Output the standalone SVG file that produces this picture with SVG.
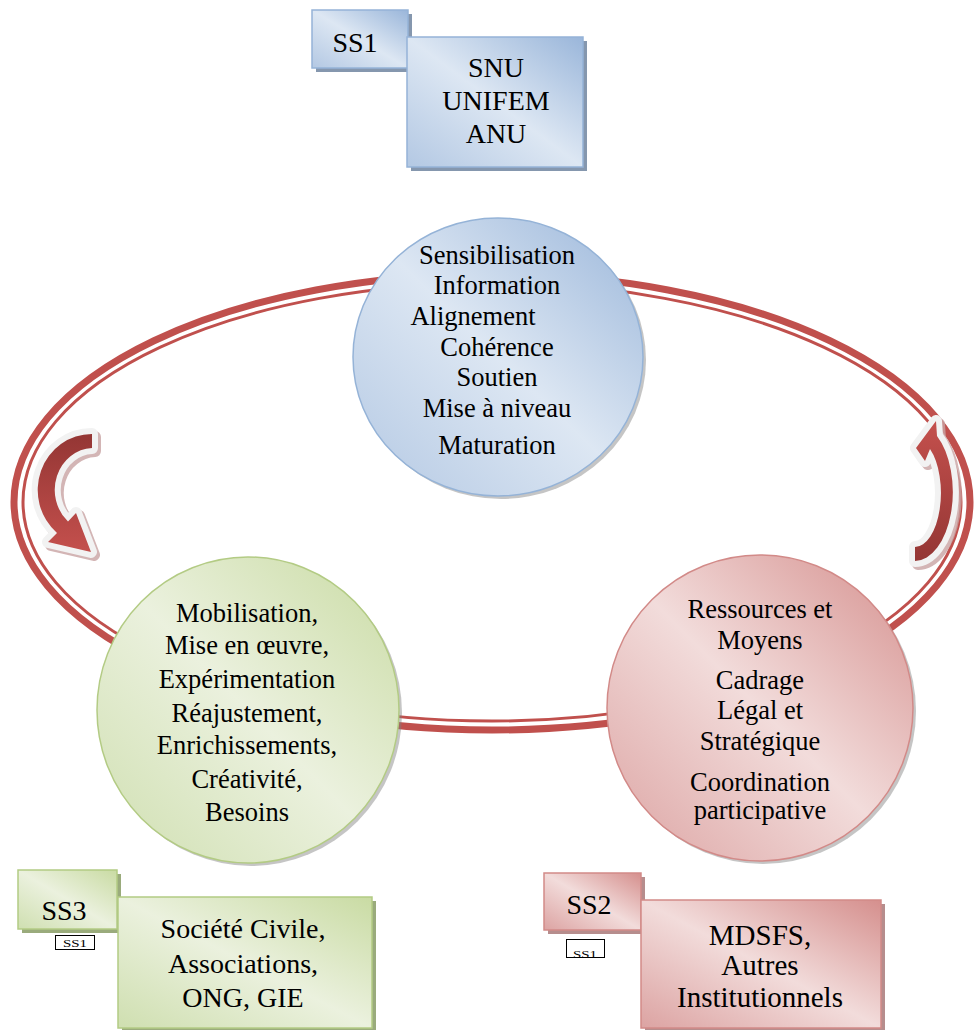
<svg xmlns="http://www.w3.org/2000/svg" width="974" height="1030" viewBox="0 0 974 1030">
<defs>
<linearGradient id="gBlue" x1="1" y1="0" x2="0" y2="1">
<stop offset="0" stop-color="#9ab6da"/><stop offset="0.5" stop-color="#dde7f3"/><stop offset="1" stop-color="#b3c8e3"/>
</linearGradient>
<linearGradient id="gGreen" x1="1" y1="0" x2="0" y2="1">
<stop offset="0" stop-color="#c9dba3"/><stop offset="0.5" stop-color="#ebf1de"/><stop offset="1" stop-color="#cfdfb0"/>
</linearGradient>
<linearGradient id="gPink" x1="1" y1="0" x2="0" y2="1">
<stop offset="0" stop-color="#d58f8d"/><stop offset="0.5" stop-color="#f2dcdb"/><stop offset="1" stop-color="#dca3a2"/>
</linearGradient>
<linearGradient id="gArrowL" x1="0" y1="0" x2="0" y2="1">
<stop offset="0" stop-color="#943634"/><stop offset="1" stop-color="#c4504d"/>
</linearGradient>
<linearGradient id="gArrowR" x1="0" y1="0" x2="0" y2="1">
<stop offset="0" stop-color="#c4504d"/><stop offset="1" stop-color="#943634"/>
</linearGradient>
<clipPath id="clipSS2"><rect x="566" y="939" width="38" height="19"/></clipPath>
</defs>
<style>
.t{font-family:'Liberation Serif','Times New Roman',serif;fill:#000;text-anchor:middle}
.e{font-size:26.5px}
.b{font-size:28px}
.m{font-size:29px}
.s{font-size:11px}
.ring{fill:none;stroke:#c0504d}
.arr{stroke:#f2f2f2;stroke-width:12;stroke-linejoin:round;paint-order:stroke}
.arrsh{fill:#b98c8c;stroke:#c9a3a3;stroke-width:12;stroke-linejoin:round;opacity:.8}
.esh{fill:#7f7f7f;opacity:.45}
.shB{fill:#8597ae}
.shG{fill:#9aab7c}
.shP{fill:#b68d8d}
.bB{fill:url(#gBlue);stroke:#95b3d7;stroke-width:1.5}
.bG{fill:url(#gGreen);stroke:#b3cb84;stroke-width:1.5}
.bP{fill:url(#gPink);stroke:#d28a88;stroke-width:1.5}
.small{fill:#fff;stroke:#000;stroke-width:1}
</style>

<g id="connectors">
<ellipse class="ring" cx="492" cy="502" rx="478" ry="228" stroke-width="7"/>
<ellipse class="ring" cx="492" cy="502" rx="469" ry="219" stroke-width="3"/>
<g id="arrow-left">
<path class="arrsh" transform="translate(3,3)" d="M 92,434 A 54 56 0 0 0 57,532.9 L 48,542 L 91,552 L 76,513 L 68,521.5 A 39 42 0 0 1 92,448 Z"/>
<path class="arr" fill="url(#gArrowL)" d="M 92,434 A 54 56 0 0 0 57,532.9 L 48,542 L 91,552 L 76,513 L 68,521.5 A 39 42 0 0 1 92,448 Z"/>
</g>
<g id="arrow-right">
<path class="arrsh" transform="translate(3,3)" d="M 915,561 A 38 69 0 0 0 937,436 L 936,421 L 916,448 L 925,461 L 930,449 A 26 54 0 0 1 915,547 Z"/>
<path class="arr" fill="url(#gArrowR)" d="M 915,561 A 38 69 0 0 0 937,436 L 936,421 L 916,448 L 925,461 L 930,449 A 26 54 0 0 1 915,547 Z"/>
</g>
</g>

<g id="node-blue">
<ellipse class="esh" cx="501" cy="360" rx="145" ry="139"/>
<ellipse class="bB" cx="498" cy="357" rx="145" ry="139" stroke-width="2"/>
<text class="t e" x="497" y="264">Sensibilisation</text>
<text class="t e" x="497" y="294">Information</text>
<text class="t e" x="473" y="325">Alignement</text>
<text class="t e" x="497" y="356">Cohérence</text>
<text class="t e" x="497" y="386">Soutien</text>
<text class="t e" x="497" y="417">Mise à niveau</text>
<text class="t e" x="497" y="454">Maturation</text>
</g>

<g id="node-green">
<ellipse class="esh" cx="251" cy="713" rx="151" ry="153"/>
<ellipse class="bG" cx="248" cy="710" rx="151" ry="153" stroke-width="2"/>
<text class="t e" x="247" y="622">Mobilisation,</text>
<text class="t e" x="247" y="654">Mise en œuvre,</text>
<text class="t e" x="247" y="688">Expérimentation</text>
<text class="t e" x="247" y="722">Réajustement,</text>
<text class="t e" x="247" y="754">Enrichissements,</text>
<text class="t e" x="247" y="788">Créativité,</text>
<text class="t e" x="247" y="821">Besoins</text>
</g>

<g id="node-pink">
<ellipse class="esh" cx="763" cy="711" rx="153" ry="153"/>
<ellipse class="bP" cx="760" cy="708" rx="153" ry="153" stroke-width="2"/>
<text class="t e" x="760" y="618">Ressources et</text>
<text class="t e" x="760" y="649">Moyens</text>
<text class="t e" x="760" y="689">Cadrage</text>
<text class="t e" x="760" y="719">Légal et</text>
<text class="t e" x="760" y="750">Stratégique</text>
<text class="t e" x="760" y="791">Coordination</text>
<text class="t e" x="760" y="819">participative</text>
</g>

<g id="node-ss1">
<rect class="shB" x="316" y="14" width="96" height="58"/>
<rect class="bB" x="312" y="10" width="96" height="58"/>
<text class="t b" x="355" y="52">SS1</text>
</g>
<g id="node-snu">
<rect class="shB" x="411" y="41" width="176" height="130"/>
<rect class="bB" x="407" y="37" width="176" height="130"/>
<text class="t b" x="496" y="77">SNU</text>
<text class="t b" x="496" y="110">UNIFEM</text>
<text class="t b" x="496" y="143">ANU</text>
</g>

<g id="node-ss3">
<rect class="shG" x="22" y="874" width="99" height="59"/>
<rect class="bG" x="18" y="870" width="99" height="59"/>
<text class="t b" x="64" y="920">SS3</text>
<rect class="small" x="55.5" y="935.5" width="39" height="14"/>
<text class="t s" x="75" y="946.5" textLength="24" lengthAdjust="spacingAndGlyphs">SS1</text>
</g>
<g id="node-societe">
<rect class="shG" x="122" y="901" width="254" height="131"/>
<rect class="bG" x="118" y="897" width="254" height="131"/>
<text class="t b" x="243" y="938">Société Civile,</text>
<text class="t b" x="243" y="973">Associations,</text>
<text class="t b" x="243" y="1007">ONG, GIE</text>
</g>

<g id="node-ss2">
<rect class="shP" x="548" y="877" width="97" height="57"/>
<rect class="bP" x="544" y="873" width="97" height="57"/>
<text class="t b" x="589" y="914">SS2</text>
<rect class="small" x="566.5" y="939.5" width="38" height="18"/>
<text class="t s" x="585" y="958" textLength="24" lengthAdjust="spacingAndGlyphs" clip-path="url(#clipSS2)">SS1</text>
</g>
<g id="node-mdsfs">
<rect class="shP" x="645" y="904" width="240" height="128"/>
<rect class="bP" x="641" y="900" width="240" height="128"/>
<text class="t m" x="760" y="945">MDSFS,</text>
<text class="t m" x="760" y="975">Autres</text>
<text class="t m" x="760" y="1007">Institutionnels</text>
</g>
</svg>
